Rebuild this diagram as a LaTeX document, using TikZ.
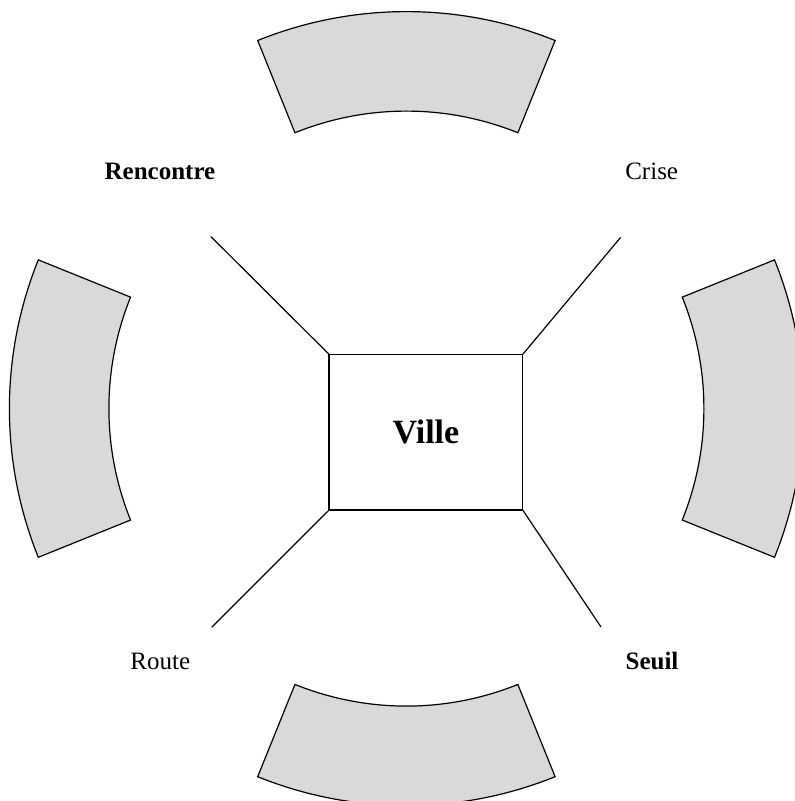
\documentclass[tikz,border=0pt]{standalone}
\usepackage{fontspec}
\setmainfont{Liberation Serif}
\usetikzlibrary{calc}
\begin{document}
\begin{tikzpicture}[x=1pt,y=1pt,
  sector/.style={fill=black!15, draw=black, line width=1.2pt, line join=miter},
  link/.style={draw=black, line width=1.2pt},
  lab/.style={font=\fontsize{25}{30}\selectfont, anchor=base, inner sep=0pt},
  centre/.style={draw=black, line width=1.2pt, minimum width=193.7pt, minimum height=155.7pt, inner sep=0pt, outer sep=0pt, font=\bfseries\fontsize{34}{40}\selectfont}]
\useasboundingbox (0,0) rectangle (795,801);
\coordinate (C) at (406.4,392.4);
\foreach \a in {90,180,270,0}{
  \draw[sector] ([shift={(\a-22:297.5)}]C) arc[start angle=\a-22, end angle=\a+22, radius=297.5]
    -- ([shift={(\a+22:397)}]C) arc[start angle=\a+22, end angle=\a-22, radius=397] -- cycle;
}
\node[centre] (ville) at (425.9,368.8) {Ville};
\coordinate (tl) at (211,564.3);
\coordinate (tr) at (620.7,563.7);
\coordinate (bl) at (211.7,173.7);
\coordinate (br) at (601,174);
\draw[link] (ville.north west) -- (tl);
\draw[link] (ville.north east) -- (tr);
\draw[link] (ville.south west) -- (bl);
\draw[link] (ville.south east) -- (br);
\node[lab, font=\bfseries\fontsize{25}{30}\selectfont] (rencontre) at (160,621) {Rencontre};
\node[lab] (crise) at (651.7,621) {Crise};
\node[lab] (route) at (160.3,131) {Route};
\node[lab, font=\bfseries\fontsize{25}{30}\selectfont] (seuil) at (652,131) {Seuil};
\end{tikzpicture}
\end{document}
